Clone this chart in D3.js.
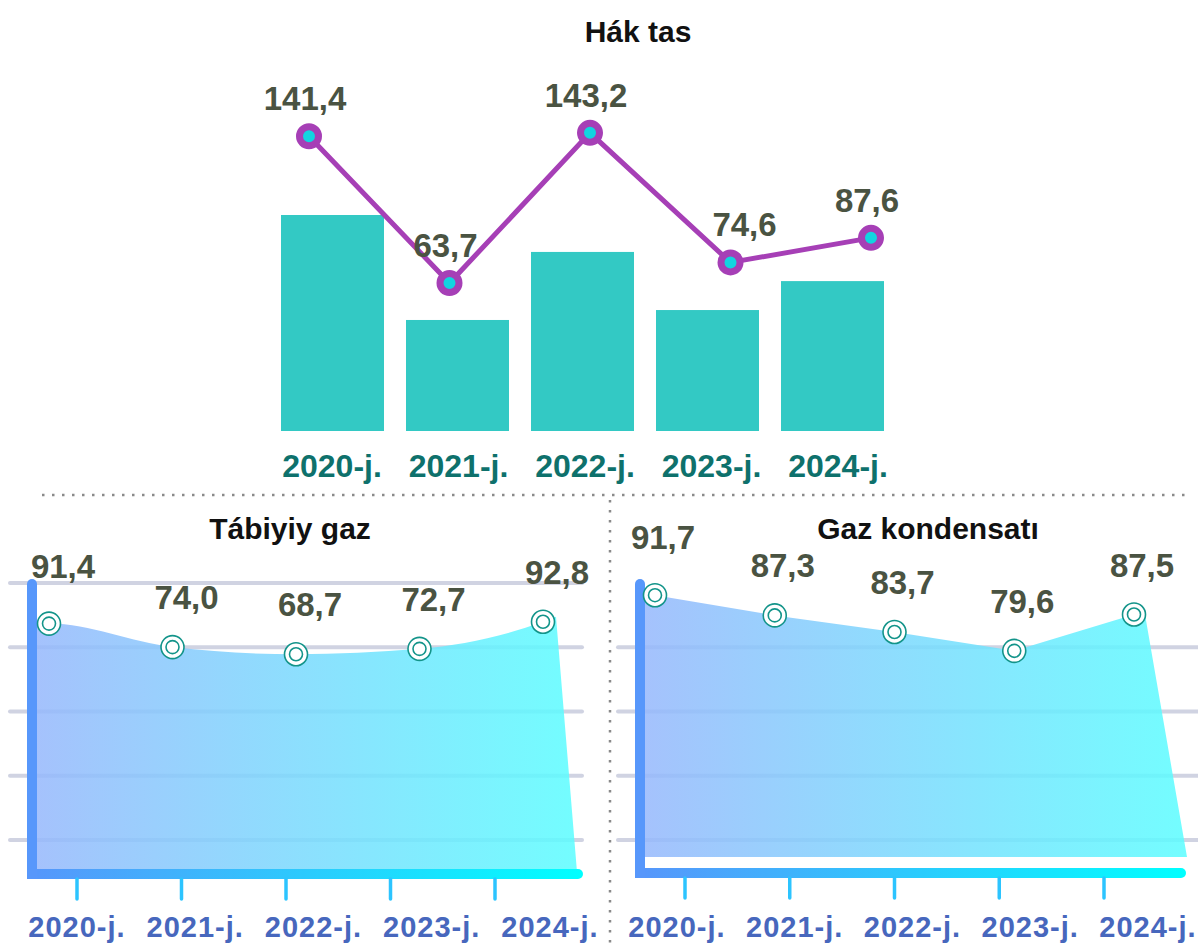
<!DOCTYPE html>
<html>
<head>
<meta charset="utf-8">
<script src="https://cdn.jsdelivr.net/npm/d3@7"></script>
<style>
    body { margin: 0; background: #ffffff; }
    text { font-family: "Liberation Sans", Arial, sans-serif; font-weight: bold; }
</style>
</head>
<body>
<script>
// Data
var years = ["2020-j.", "2021-j.", "2022-j.", "2023-j.", "2024-j."];
// bar heights are not labelled, relative sizes only (2020 = 100)
var hakBars = [100, 51.4, 82.9, 56.0, 69.4];
var hakTas = [141.4, 63.7, 143.2, 74.6, 87.6];
var tabiiyGaz = [91.4, 74.0, 68.7, 72.7, 92.8];
var gazKondensat = [91.7, 87.3, 83.7, 79.6, 87.5];

var fmt = function(v) { return d3.format(".1f")(v).replace(".", ","); };

var svg = d3.select("body").append("svg")
    .attr("width", 1198)
    .attr("height", 945);

var defs = svg.append("defs");

// area fill, light blue -> cyan
var ag = defs.append("linearGradient").attr("id", "areaGrad")
    .attr("x1", 0).attr("x2", 1).attr("y1", 0).attr("y2", 0);
ag.append("stop").attr("offset", 0).attr("stop-color", "#96b8fc");
ag.append("stop").attr("offset", 1).attr("stop-color", "#5cfdff");

// axis gradients need user space because the line has no height
function axisGradient(id, x1, x2) {
    var g = defs.append("linearGradient").attr("id", id)
        .attr("gradientUnits", "userSpaceOnUse")
        .attr("x1", x1).attr("x2", x2).attr("y1", 0).attr("y2", 0);
    g.append("stop").attr("offset", 0).attr("stop-color", "#5795fb");
    g.append("stop").attr("offset", 1).attr("stop-color", "#00ffff");
}
axisGradient("axisL", 27, 580);
axisGradient("axisR", 636, 1185);

/* ------------------------------------------------------------------
TOP CHART: Hák tas (bars + line)
-------------------------------------------------------------------*/
svg.append("text")
    .attr("x", 638).attr("y", 42)
    .attr("text-anchor", "middle")
    .attr("font-size", "30px")
    .attr("fill", "#111111")
    .text("Hák tas");

var xBand = d3.scaleBand().domain(years).range([281, 884])
    .paddingInner(0.176).paddingOuter(0);
var yBar = d3.scaleLinear().domain([0, 100]).range([431, 215]);

svg.selectAll("rect.bar")
    .data(hakBars)
    .enter()
    .append("rect")
    .attr("class", "bar")
    .attr("x", function(d, i) { return xBand(years[i]); })
    .attr("y", function(d) { return yBar(d); })
    .attr("width", xBand.bandwidth())
    .attr("height", function(d) { return yBar(0) - yBar(d); })
    .attr("fill", "#33c9c4");

// year labels under the bars
var xTopLabel = d3.scalePoint().domain(years).range([332, 838]);
svg.selectAll("text.topYear")
    .data(years)
    .enter()
    .append("text")
    .attr("class", "topYear")
    .attr("x", function(d) { return xTopLabel(d); })
    .attr("y", 477)
    .attr("text-anchor", "middle")
    .attr("font-size", "32px")
    .attr("fill", "#0e716c")
    .text(function(d) { return d; });

// the line sits on its own scale
var xLine = d3.scalePoint().domain(years).range([309, 871]);
var yLine = d3.scaleLinear().domain([60, 150]).range([290, 120]);

var hakPts = hakTas.map(function(v, i) { return [xLine(years[i]), yLine(v)]; });

svg.append("path")
    .attr("d", d3.line()(hakPts))
    .attr("fill", "none")
    .attr("stroke", "#a63fb6")
    .attr("stroke-width", 5);

svg.selectAll("circle.hak")
    .data(hakPts)
    .enter()
    .append("circle")
    .attr("class", "hak")
    .attr("cx", function(d) { return d[0]; })
    .attr("cy", function(d) { return d[1]; })
    .attr("r", 9.5)
    .attr("fill", "#12d4e0")
    .attr("stroke", "#a63fb6")
    .attr("stroke-width", 7);

svg.selectAll("text.hakVal")
    .data(hakTas)
    .enter()
    .append("text")
    .attr("class", "hakVal")
    .attr("x", function(d, i) { return hakPts[i][0] + (i == 3 ? 14 : -4); })
    .attr("y", function(d, i) { return hakPts[i][1] - 26; })
    .attr("text-anchor", "middle")
    .attr("font-size", "33px")
    .attr("fill", "#4a5342")
    .text(fmt);

// dotted separators
svg.append("line")
    .attr("x1", 42).attr("x2", 1192).attr("y1", 495).attr("y2", 495)
    .attr("stroke", "#8a8a8a").attr("stroke-width", 2.5)
    .attr("stroke-dasharray", "2.5,7.5");
svg.append("line")
    .attr("x1", 610).attr("x2", 610).attr("y1", 500).attr("y2", 945)
    .attr("stroke", "#8a8a8a").attr("stroke-width", 2.5)
    .attr("stroke-dasharray", "2.5,7.5");

/* ------------------------------------------------------------------
BOTTOM PANELS: area charts
-------------------------------------------------------------------*/
function drawPanel(p) {
    var g = svg.append("g");

    g.append("text")
        .attr("x", p.titleX).attr("y", 539)
        .attr("text-anchor", "middle")
        .attr("font-size", "30px")
        .attr("fill", "#111111")
        .text(p.title);

    var x = d3.scalePoint().domain(years).range(p.pointRange);
    var y = d3.scaleLinear().domain(p.yDomain).range(p.yRange);
    var pts = p.values.map(function(v, i) { return [x(years[i]), y(v)]; });

    // grid lines first, the area is a bit see-through over them
    var yGrid = d3.scaleLinear().domain([0, 4]).range([840, 583]);
    g.selectAll("line.grid")
        .data(p.gridIdx)
        .enter()
        .append("line")
        .attr("x1", p.gridX[0]).attr("x2", p.gridX[1])
        .attr("y1", function(i) { return yGrid(i); })
        .attr("y2", function(i) { return yGrid(i); })
        .attr("stroke", "#d0d3e2")
        .attr("stroke-width", 4)
        .attr("stroke-linecap", "round");

    // area: extend a little past first and last point, slanted right edge
    var first = pts[0], last = pts[pts.length - 1];
    var top = [[first[0] - p.padL, first[1]]].concat(pts)
        .concat([[last[0] + p.padR, last[1] - p.rise]]);
    var d = d3.line().curve(p.curve)(top) +
        "L" + (last[0] + p.slant) + "," + p.areaBottom +
        "L" + (first[0] - p.padL) + "," + p.areaBottom + "Z";
    g.append("path")
        .attr("d", d)
        .attr("fill", "url(#areaGrad)")
        .attr("fill-opacity", 0.86);

    // axis frame
    g.append("line")
        .attr("x1", p.axisX).attr("x2", p.axisRight)
        .attr("y1", p.axisY).attr("y2", p.axisY)
        .attr("stroke", "url(#" + p.grad + ")")
        .attr("stroke-width", 10)
        .attr("stroke-linecap", "round");
    g.append("line")
        .attr("x1", p.axisX).attr("x2", p.axisX)
        .attr("y1", p.axisTop).attr("y2", p.axisY + 5)
        .attr("stroke", "#5797fb")
        .attr("stroke-width", 10);
    g.append("circle")
        .attr("cx", p.axisX).attr("cy", p.axisTop).attr("r", 5)
        .attr("fill", "#5797fb");

    var xTick = d3.scalePoint().domain(years).range(p.tickRange);
    g.selectAll("line.tick")
        .data(years)
        .enter()
        .append("line")
        .attr("x1", function(d) { return xTick(d); })
        .attr("x2", function(d) { return xTick(d); })
        .attr("y1", p.axisY + 5).attr("y2", p.axisY + 25)
        .attr("stroke", "#2cc4ff")
        .attr("stroke-width", 3.5)
        .attr("stroke-linecap", "round");

    var xLab = d3.scalePoint().domain(years).range(p.labelRange);
    g.selectAll("text.year")
        .data(years)
        .enter()
        .append("text")
        .attr("x", function(d) { return xLab(d); })
        .attr("y", 937)
        .attr("text-anchor", "middle")
        .attr("font-size", "29px")
        .attr("letter-spacing", "1px")
        .attr("fill", "#4767bd")
        .text(function(d) { return d; });

    // double ring markers
    var m = g.selectAll("g.marker")
        .data(pts)
        .enter()
        .append("g")
        .attr("transform", function(d) { return "translate(" + d[0] + "," + d[1] + ")"; });
    m.append("circle").attr("r", 11.5)
        .attr("fill", "#ffffff").attr("stroke", "#13948a").attr("stroke-width", 1.6);
    m.append("circle").attr("r", 6.5)
        .attr("fill", "#ffffff").attr("stroke", "#13948a").attr("stroke-width", 1.6);

    g.selectAll("text.val")
        .data(p.values)
        .enter()
        .append("text")
        .attr("x", function(d, i) { return pts[i][0] + p.labelDx; })
        .attr("y", function(d, i) { return pts[i][1] - (i == 0 ? 46 : 38); })
        .attr("text-anchor", "middle")
        .attr("font-size", "33px")
        .attr("fill", "#4a5342")
        .text(fmt);
}

drawPanel({
    title: "Tábiyiy gaz", titleX: 290, values: tabiiyGaz,
    pointRange: [49, 543], yDomain: [60, 100], yRange: [666, 612],
    curve: d3.curveMonotoneX, padL: 12, padR: 13, rise: 5, slant: 34,
    areaBottom: 872, gridIdx: [0, 1, 2, 3, 4], gridX: [10, 582],
    axisX: 32, axisTop: 584, axisY: 874, axisRight: 578, grad: "axisL",
    tickRange: [77, 495], labelRange: [77, 550], labelDx: 14
});

drawPanel({
    title: "Gaz kondensatı", titleX: 928, values: gazKondensat,
    pointRange: [655, 1134], yDomain: [75, 95], yRange: [672, 580],
    curve: d3.curveLinear, padL: 10, padR: 11, rise: 0, slant: 53,
    areaBottom: 857, gridIdx: [0, 1, 2, 3], gridX: [618, 1198],
    axisX: 640, axisTop: 584, axisY: 873, axisRight: 1181, grad: "axisR",
    tickRange: [685, 1104], labelRange: [677, 1148], labelDx: 8
});
</script>
</body>
</html>
